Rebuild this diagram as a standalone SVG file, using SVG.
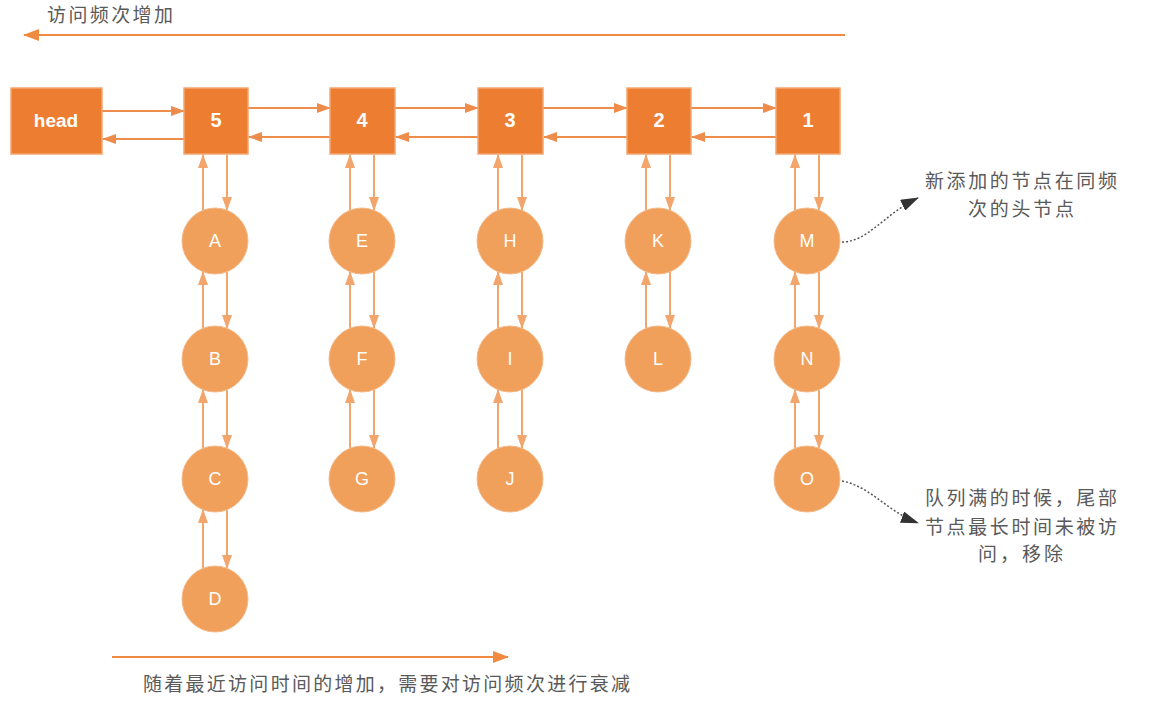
<svg xmlns="http://www.w3.org/2000/svg" width="1152" height="706" viewBox="0 0 1152 706">
<style>
.sq{fill:#ED7D31;stroke:#F3A670;stroke-width:1.5}
.ci{fill:#F0A05B;stroke:#F4B887;stroke-width:1}
.lbl{font-family:"Liberation Sans",Arial,sans-serif;fill:#fff;text-anchor:middle}
.h{stroke:#EE8C4B;stroke-width:2;fill:none;marker-end:url(#ah)}
.v{stroke:#F2A56C;stroke-width:2;fill:none;marker-end:url(#av)}
.cn{font-family:"Noto Sans CJK SC","Liberation Sans",sans-serif;fill:#5a5a5a;font-size:19px}
.dot{stroke:#555;stroke-width:1.5;stroke-dasharray:2 2;fill:none;marker-end:url(#ad)}
</style>
<defs>
<marker id="ah" markerWidth="14" markerHeight="10" refX="13" refY="5" orient="auto" markerUnits="userSpaceOnUse"><path d="M0,0 L14,5 L0,10 Z" fill="#EE8C4B"/></marker>
<marker id="av" markerWidth="14" markerHeight="10" refX="13" refY="5" orient="auto" markerUnits="userSpaceOnUse"><path d="M0,0 L14,5 L0,10 Z" fill="#F2A56C"/></marker>
<marker id="at" markerWidth="16" markerHeight="12" refX="15" refY="6" orient="auto" markerUnits="userSpaceOnUse"><path d="M0,0 L16,6 L0,12 Z" fill="#F08A40"/></marker>
<marker id="ad" markerWidth="18" markerHeight="12" refX="17" refY="6" orient="auto" markerUnits="userSpaceOnUse"><path d="M0,0 L18,6 L0,12 Z" fill="#333"/></marker>
</defs>
<rect width="1152" height="706" fill="#fff"/>

<g id="title-top">
<line x1="845" y1="35" x2="24" y2="35" stroke="#F08A40" stroke-width="2" marker-end="url(#at)"/>
<text class="cn" x="47" y="22" textLength="126">访问频次增加</text>
</g>

<g id="connectors">
<line class="h" x1="102" y1="111" x2="184" y2="111"/>
<line class="h" x1="184" y1="139" x2="103" y2="139"/>
<line class="h" x1="248" y1="108" x2="330" y2="108"/>
<line class="h" x1="330" y1="137" x2="249" y2="137"/>
<line class="h" x1="395" y1="108" x2="478" y2="108"/>
<line class="h" x1="478" y1="137" x2="396" y2="137"/>
<line class="h" x1="543" y1="108" x2="627" y2="108"/>
<line class="h" x1="627" y1="137" x2="544" y2="137"/>
<line class="h" x1="691" y1="108" x2="776" y2="108"/>
<line class="h" x1="776" y1="137" x2="692" y2="137"/>
<line class="v" x1="203" y1="210" x2="203" y2="155"/>
<line class="v" x1="227" y1="155" x2="227" y2="210"/>
<line class="v" x1="203" y1="328" x2="203" y2="272"/>
<line class="v" x1="227" y1="272" x2="227" y2="328"/>
<line class="v" x1="203" y1="448" x2="203" y2="390"/>
<line class="v" x1="227" y1="390" x2="227" y2="448"/>
<line class="v" x1="203" y1="568" x2="203" y2="510"/>
<line class="v" x1="227" y1="510" x2="227" y2="568"/>
<line class="v" x1="350" y1="210" x2="350" y2="155"/>
<line class="v" x1="374" y1="155" x2="374" y2="210"/>
<line class="v" x1="350" y1="328" x2="350" y2="272"/>
<line class="v" x1="374" y1="272" x2="374" y2="328"/>
<line class="v" x1="350" y1="448" x2="350" y2="390"/>
<line class="v" x1="374" y1="390" x2="374" y2="448"/>
<line class="v" x1="498" y1="210" x2="498" y2="155"/>
<line class="v" x1="522" y1="155" x2="522" y2="210"/>
<line class="v" x1="498" y1="328" x2="498" y2="272"/>
<line class="v" x1="522" y1="272" x2="522" y2="328"/>
<line class="v" x1="498" y1="448" x2="498" y2="390"/>
<line class="v" x1="522" y1="390" x2="522" y2="448"/>
<line class="v" x1="646" y1="210" x2="646" y2="155"/>
<line class="v" x1="670" y1="155" x2="670" y2="210"/>
<line class="v" x1="646" y1="328" x2="646" y2="272"/>
<line class="v" x1="670" y1="272" x2="670" y2="328"/>
<line class="v" x1="795" y1="210" x2="795" y2="155"/>
<line class="v" x1="819" y1="155" x2="819" y2="210"/>
<line class="v" x1="795" y1="328" x2="795" y2="272"/>
<line class="v" x1="819" y1="272" x2="819" y2="328"/>
<line class="v" x1="795" y1="448" x2="795" y2="390"/>
<line class="v" x1="819" y1="390" x2="819" y2="448"/>
<path class="dot" d="M842,242 C868,242 884,214 918,198"/>
<path class="dot" d="M842,481 C870,486 888,512 918,523"/>
<line x1="112" y1="657" x2="508" y2="657" stroke="#F08A40" stroke-width="2" marker-end="url(#at)"/>
</g>

<g id="head"><rect class="sq" x="11" y="88" width="91" height="66"/><text class="lbl" x="56" y="127" font-size="19" font-weight="bold">head</text></g>
<g id="n5"><rect class="sq" x="184" y="88" width="64" height="66"/><text class="lbl" x="216" y="127" font-size="20" font-weight="bold">5</text></g>
<g id="n4"><rect class="sq" x="330" y="88" width="65" height="66"/><text class="lbl" x="362" y="127" font-size="20" font-weight="bold">4</text></g>
<g id="n3"><rect class="sq" x="478" y="88" width="65" height="66"/><text class="lbl" x="510" y="127" font-size="20" font-weight="bold">3</text></g>
<g id="n2"><rect class="sq" x="627" y="88" width="64" height="66"/><text class="lbl" x="659" y="127" font-size="20" font-weight="bold">2</text></g>
<g id="n1"><rect class="sq" x="776" y="88" width="64" height="66"/><text class="lbl" x="808" y="127" font-size="20" font-weight="bold">1</text></g>

<g id="nA"><circle class="ci" cx="215" cy="241" r="33"/><text class="lbl" x="215" y="247" font-size="18">A</text></g>
<g id="nB"><circle class="ci" cx="215" cy="359" r="33"/><text class="lbl" x="215" y="365" font-size="18">B</text></g>
<g id="nC"><circle class="ci" cx="215" cy="479" r="33"/><text class="lbl" x="215" y="485" font-size="18">C</text></g>
<g id="nD"><circle class="ci" cx="215" cy="599" r="33"/><text class="lbl" x="215" y="605" font-size="18">D</text></g>
<g id="nE"><circle class="ci" cx="362" cy="241" r="33"/><text class="lbl" x="362" y="247" font-size="18">E</text></g>
<g id="nF"><circle class="ci" cx="362" cy="359" r="33"/><text class="lbl" x="362" y="365" font-size="18">F</text></g>
<g id="nG"><circle class="ci" cx="362" cy="479" r="33"/><text class="lbl" x="362" y="485" font-size="18">G</text></g>
<g id="nH"><circle class="ci" cx="510" cy="241" r="33"/><text class="lbl" x="510" y="247" font-size="18">H</text></g>
<g id="nI"><circle class="ci" cx="510" cy="359" r="33"/><text class="lbl" x="510" y="365" font-size="18">I</text></g>
<g id="nJ"><circle class="ci" cx="510" cy="479" r="33"/><text class="lbl" x="510" y="485" font-size="18">J</text></g>
<g id="nK"><circle class="ci" cx="658" cy="241" r="33"/><text class="lbl" x="658" y="247" font-size="18">K</text></g>
<g id="nL"><circle class="ci" cx="658" cy="359" r="33"/><text class="lbl" x="658" y="365" font-size="18">L</text></g>
<g id="nM"><circle class="ci" cx="807" cy="241" r="33"/><text class="lbl" x="807" y="247" font-size="18">M</text></g>
<g id="nN"><circle class="ci" cx="807" cy="359" r="33"/><text class="lbl" x="807" y="365" font-size="18">N</text></g>
<g id="nO"><circle class="ci" cx="807" cy="479" r="33"/><text class="lbl" x="807" y="485" font-size="18">O</text></g>

<g id="note-top">
<text class="cn" x="925" y="188" textLength="192">新添加的节点在同频</text>
<text class="cn" x="968" y="216" textLength="106">次的头节点</text>
</g>
<g id="note-bottom">
<text class="cn" x="925" y="505" textLength="192">队列满的时候，尾部</text>
<text class="cn" x="925" y="534" textLength="192">节点最长时间未被访</text>
<text class="cn" x="978" y="561" textLength="85">问，移除</text>
</g>
<g id="note-bottom-axis">
<text class="cn" x="143" y="691" textLength="487">随着最近访问时间的增加，需要对访问频次进行衰减</text>
</g>
</svg>
